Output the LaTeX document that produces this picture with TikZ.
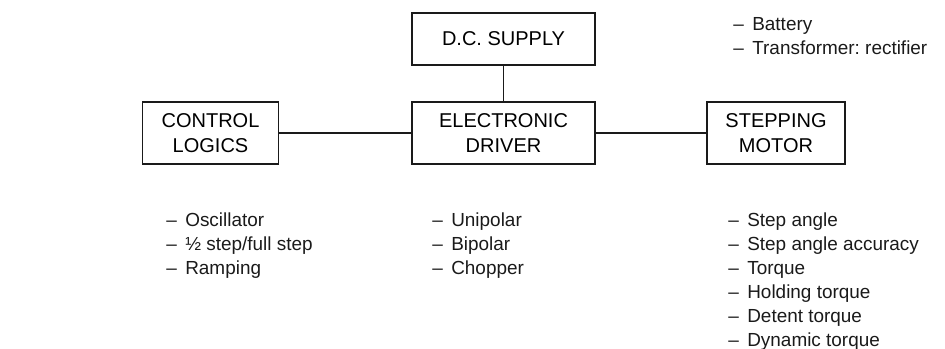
\documentclass[tikz,border=0pt]{standalone}
\usepackage{fontspec}
\setmainfont{Liberation Sans}
\usetikzlibrary{positioning}
\definecolor{inkblack}{HTML}{1A1A1A}
\frenchspacing
\newcommand{\listdash}{--\hspace{0.45em}}
\tikzset{
    block/.style={
        rectangle, draw=inkblack, line width=1.3pt,
        minimum height=46.5pt, minimum width=102pt,
        align=center, inner sep=2pt,
        font=\fontsize{15}{18.75}\selectfont
    },
    block wide/.style={
        block, minimum width=137pt
    },
    feature list/.style={
        align=left, anchor=north west, inner sep=0pt,
        text=inkblack, font=\fontsize{14.2}{18}\selectfont
    },
    link/.style={
        draw=inkblack, line width=1pt
    },
}
\begin{document}
\begin{tikzpicture}[x=0.75pt,y=-0.75pt]
    \useasboundingbox (0,0) rectangle (945,349);

    % Blocks
    \node[block] (ctrl) at (210.5,133) {CONTROL\\LOGICS};
    \node[block wide] (driver) at (503.5,133) {ELECTRONIC\\DRIVER};
    \node[block wide, minimum height=39pt] (supply) at (503.5,39) {D.C. SUPPLY};
    \node[block, minimum width=103.5pt] (motor) at (776,133) {STEPPING\\MOTOR};

    \draw[link] (ctrl.east) -- (driver.west);
    \draw[link] (driver.east) -- (motor.west);
    \draw[link] (supply.south) -- (driver.north);

    % Lists
    \node[feature list] (supplylist) at (733,17) {\listdash Battery\\\listdash Transformer: rectifier};
    \node[feature list] (ctrllist) at (166,212.5) {\listdash Oscillator\\\listdash ½ step/full step\\\listdash Ramping};
    \node[feature list] (driverlist) at (432,212.5) {\listdash Unipolar\\\listdash Bipolar\\\listdash Chopper};
    \node[feature list] (motorlist) at (728,212.5) {\listdash Step angle\\\listdash Step angle accuracy\\\listdash Torque\\\listdash Holding torque\\\listdash Detent torque\\\listdash Dynamic torque};
\end{tikzpicture}
\end{document}
